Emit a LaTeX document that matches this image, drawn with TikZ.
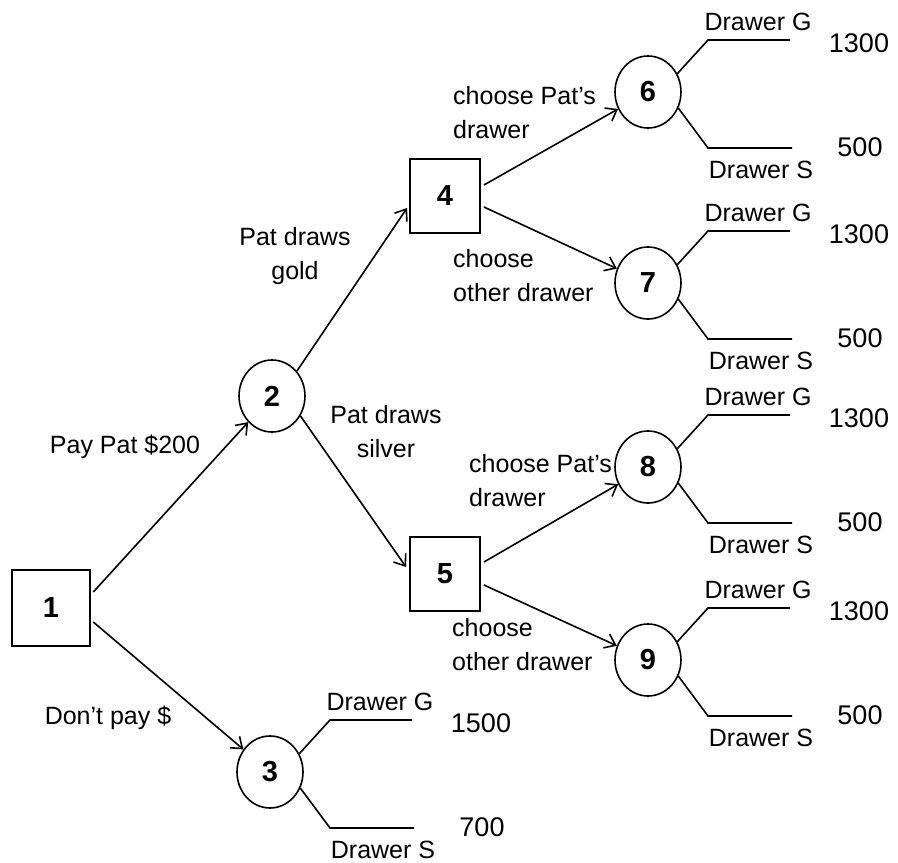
\documentclass[tikz,border=0pt]{standalone}
\usepackage{fontspec}
\setmainfont{Liberation Sans}
\usetikzlibrary{arrows.meta,calc,shapes.geometric}
\begin{document}
\begin{tikzpicture}[x=1pt,y=-1pt,
  every node/.style={inner sep=0pt},
  decision/.style={draw,line width=1.9pt,minimum width=70pt,minimum height=74pt,
    font=\fontsize{29}{30}\selectfont\bfseries},
  chance/.style={ellipse,draw,line width=1.6pt,minimum width=66pt,minimum height=72pt,
    font=\fontsize{29}{30}\selectfont\bfseries},
  branch/.style={line width=1.6pt,-{Straight Barb[length=10pt,width=15pt,line width=1.6pt]}},
  leaf/.style={line width=1.6pt},
  lbl/.style={font=\fontsize{25}{34}\selectfont},
  val/.style={font=\fontsize{27}{30}\selectfont}]
\useasboundingbox (0,0) rectangle (898,863);

% decision and chance nodes
\node[decision,minimum width=78pt,minimum height=76pt,line width=2.6pt] (n1) at (51,608) {1};
\node[chance] (n2) at (272,396) {2};
\node[chance] (n3) at (270,772) {3};
\node[decision] (n4) at (445,196) {4};
\node[decision] (n5) at (445,574) {5};
\node[chance] (n6) at (648,92) {6};
\node[chance] (n7) at (648,283) {7};
\node[chance] (n8) at (648,467) {8};
\node[chance] (n9) at (648,660) {9};

% branches
\draw[branch] ($(n1.east)+(2,-16)$) -- (n2);
\draw[branch] ($(n1.east)+(2,14)$) -- (n3);
\draw[branch] (n2.45) -- ($(n4.west)+(-2,12)$);
\draw[branch] (n2.-35) -- ($(n5.west)+(-3,-7)$);
\draw[branch] ($(n4.east)+(3,-11)$) -- (n6);
\draw[branch] ($(n4.east)+(3,11)$) -- (n7);
\draw[branch] ($(n5.east)+(3,-12)$) -- (n8);
\draw[branch] ($(n5.east)+(3,11)$) -- (n9);

% branch labels
\node[lbl] (pay) at (125,447) {Pay Pat \$200};
\node[lbl] (dont) at (108,718) {Don't pay \$};
\node[lbl,align=center] (gold) at (295,256) {Pat draws\\gold};
\node[lbl,align=center] (silver) at (386,432) {Pat draws\\silver};
\node[lbl,align=left,anchor=west] (c6) at (453,113) {choose Pat's\\drawer};
\node[lbl,align=left,anchor=west] (c7) at (453,276) {choose\\other drawer};
\node[lbl,align=left,anchor=west] (c8) at (469,481) {choose Pat's\\drawer};
\node[lbl,align=left,anchor=west] (c9) at (452,645) {choose\\other drawer};

% outcome leaves
\foreach \n/\g/\s in {3/1500/700,6/1300/500,7/1300/500,8/1300/500,9/1300/500}{
  \draw[leaf] (n\n.32) -- ($(n\n)+(60,-52)$) coordinate (gb\n) -- ++(82,0) coordinate (ge\n);
  \draw[leaf] (n\n.-28) -- ($(n\n)+(60,56)$) coordinate (sb\n) -- ++(84,0) coordinate (se\n);
  \node[lbl] (dg\n) at ($(n\n)+(110,-70)$) {Drawer G};
  \node[lbl] (ds\n) at ($(n\n)+(113,78)$) {Drawer S};
  \node[val] (vg\n) at ($(n\n)+(211,-49)$) {\g};
  \node[val] (vs\n) at ($(n\n)+(212,55)$) {\s};
}
\end{tikzpicture}
\end{document}
